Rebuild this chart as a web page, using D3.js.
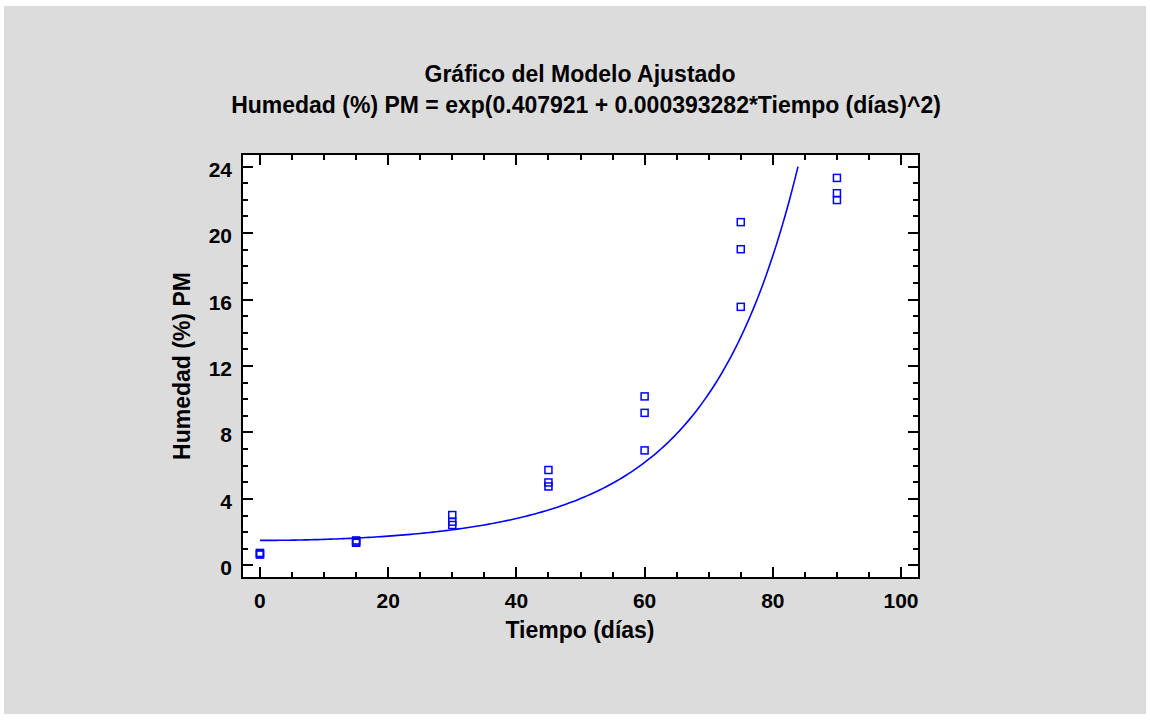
<!DOCTYPE html>
<html>
<head>
<meta charset="utf-8">
<script src="https://cdn.jsdelivr.net/npm/d3@7"></script>
<style>
  body { margin: 0; background: #ffffff; }
  text { font-family: "Liberation Sans", Arial, sans-serif; font-weight: bold; fill: #000; }
</style>
</head>
<body>
<svg id="chart" width="1150" height="720"></svg>
<script>
// Title, axis labels and tick values
const titleLines = [
  "Gráfico del Modelo Ajustado",
  "Humedad (%) PM = exp(0.407921 + 0.000393282*Tiempo (días)^2)"
];
const xLabel = "Tiempo (días)";
const yLabel = "Humedad (%) PM";
const xTicks = [0, 20, 40, 60, 80, 100];
const yTicks = [0, 4, 8, 12, 16, 20, 24];

// Observations
const tiempo  = [0, 0, 0, 15, 15, 15, 30, 30, 30, 45, 45, 45, 60, 60, 60, 75, 75, 75, 90, 90, 90];
const humedad = [0.65, 0.70, 0.75, 1.36, 1.43, 1.50, 3.03, 2.63, 2.43, 5.74, 4.99, 4.75,
                 10.17, 9.18, 6.92, 20.66, 19.03, 15.56, 23.32, 22.40, 21.99];

// Fitted model: Humedad = exp(b0 + b1 * Tiempo^2)
const modelCoef = [0.407921, 0.000393282];

const svg = d3.select("#chart");

// Grey panel
svg.append("rect")
  .attr("x", 4).attr("y", 6).attr("width", 1142).attr("height", 708)
  .attr("fill", "#dcdcdc");

const frame = { left: 242, right: 919, top: 154, bottom: 578 };

const x = d3.scaleLinear().domain([-2.8, 102.8]).range([frame.left, frame.right]);
const y = d3.scaleLinear().domain([-0.76, 24.76]).range([frame.bottom, frame.top]);

// Plot area
svg.append("rect")
  .attr("x", frame.left).attr("y", frame.top)
  .attr("width", frame.right - frame.left).attr("height", frame.bottom - frame.top)
  .attr("fill", "#ffffff");

// Titles
svg.append("text").attr("x", 580).attr("y", 82).attr("text-anchor", "middle")
  .attr("font-size", 23).text(titleLines[0]);
svg.append("text").attr("x", 586).attr("y", 113).attr("text-anchor", "middle")
  .attr("font-size", 23).text(titleLines[1]);

// Tick marks (inward, on all four sides)
const majorLen = 11, minorLen = 6;
const xMinor = d3.range(0, 101, 5).filter(v => !xTicks.includes(v));
const yMinor = d3.range(0, 25, 1).filter(v => !yTicks.includes(v));
const ticks = svg.append("g").attr("stroke", "#000").attr("stroke-width", 2);

function xTickMarks(vals, len) {
  vals.forEach(v => {
    const px = Math.round(x(v));
    ticks.append("line").attr("x1", px).attr("x2", px)
      .attr("y1", frame.bottom).attr("y2", frame.bottom - len);
    ticks.append("line").attr("x1", px).attr("x2", px)
      .attr("y1", frame.top).attr("y2", frame.top + len);
  });
}
function yTickMarks(vals, len) {
  vals.forEach(v => {
    const py = Math.round(y(v));
    ticks.append("line").attr("y1", py).attr("y2", py)
      .attr("x1", frame.left).attr("x2", frame.left + len);
    ticks.append("line").attr("y1", py).attr("y2", py)
      .attr("x1", frame.right).attr("x2", frame.right - len);
  });
}
xTickMarks(xTicks, majorLen);
xTickMarks(xMinor, minorLen);
yTickMarks(yTicks, majorLen);
yTickMarks(yMinor, minorLen);

// Tick labels
svg.append("g").selectAll("text").data(xTicks).join("text")
  .attr("x", d => x(d)).attr("y", 608)
  .attr("text-anchor", "middle").attr("font-size", 21)
  .text(d => d);
svg.append("g").selectAll("text").data(yTicks).join("text")
  .attr("x", 232).attr("y", d => y(d) + 10)
  .attr("text-anchor", "end").attr("font-size", 21)
  .text(d => d);

// Axis titles
svg.append("text").attr("x", 580).attr("y", 638).attr("text-anchor", "middle")
  .attr("font-size", 23).text(xLabel);
svg.append("text").attr("transform", "translate(190,366) rotate(-90)")
  .attr("text-anchor", "middle").attr("font-size", 23).text(yLabel);

// Fitted curve, drawn up to the top of the value axis
const model = t => Math.exp(modelCoef[0] + modelCoef[1] * t * t);
const tMax = Math.sqrt((Math.log(24) - modelCoef[0]) / modelCoef[1]);
const curveT = d3.range(0, tMax, 0.5).concat([tMax]);
svg.append("path")
  .datum(curveT)
  .attr("fill", "none").attr("stroke", "#0000ff").attr("stroke-width", 1.6)
  .attr("d", d3.line().x(t => x(t)).y(t => y(model(t))));

// Observed points as open squares
const sq = 7;
svg.append("g").selectAll("rect").data(tiempo.map((t, i) => [t, humedad[i]])).join("rect")
  .attr("x", d => x(d[0]) - sq / 2).attr("y", d => y(d[1]) - sq / 2)
  .attr("width", sq).attr("height", sq)
  .attr("fill", "none").attr("stroke", "#0000ff").attr("stroke-width", 1.5);

// Frame
svg.append("rect")
  .attr("x", frame.left).attr("y", frame.top)
  .attr("width", frame.right - frame.left).attr("height", frame.bottom - frame.top)
  .attr("fill", "none").attr("stroke", "#000").attr("stroke-width", 2);
</script>
</body>
</html>
